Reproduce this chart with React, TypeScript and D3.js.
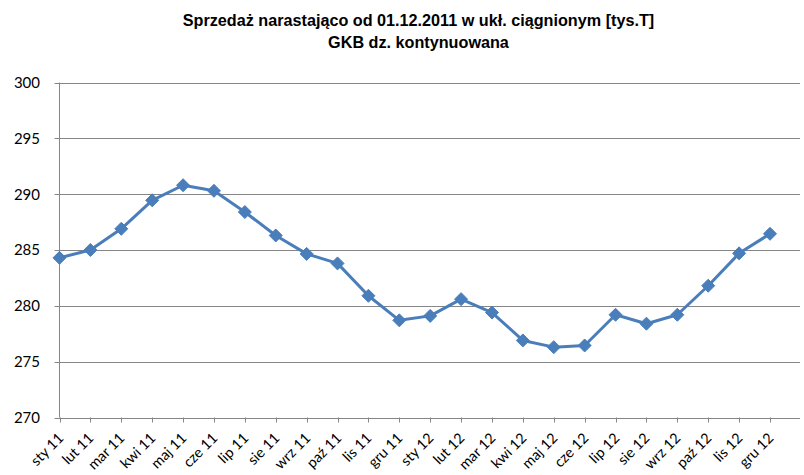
import React from "react";
import * as d3 from "d3";

const categories = [
  "sty 11", "lut 11", "mar 11", "kwi 11", "maj 11", "cze 11", "lip 11", "sie 11",
  "wrz 11", "paź 11", "lis 11", "gru 11", "sty 12", "lut 12", "mar 12", "kwi 12",
  "maj 12", "cze 12", "lip 12", "sie 12", "wrz 12", "paź 12", "lis 12", "gru 12",
];
const values = [
  284.3, 285.0, 286.9, 289.45, 290.8, 290.3, 288.4, 286.3,
  284.65, 283.8, 280.9, 278.7, 279.1, 280.6, 279.4, 276.9,
  276.3, 276.45, 279.2, 278.4, 279.2, 281.8, 284.7, 286.45,
];
const yTicks = [270, 275, 280, 285, 290, 295, 300];
const titleLines = [
  "Sprzedaż narastająco od 01.12.2011 w ukł. ciągnionym [tys.T]",
  "GKB dz. kontynuowana",
];

const W = 804;
const H = 475;
const plotLeft = 59.5;
const plotRight = 800;
const lastPointX = 770;
const plotTop = 82.5;
const plotBottom = 417.5;

export default function App() {
  const x = d3.scalePoint<string>().domain(categories).range([plotLeft, lastPointX]);
  const y = d3.scaleLinear().domain([270, 300]).range([plotBottom, plotTop]);
  const line = d3
    .line<number>()
    .x((_, i) => x(categories[i]) as number)
    .y((d) => y(d));
  const labelFont = "Lato, 'Open Sans', sans-serif";
  const gridColor = "#868686";
  const blue = "#4A7EBB";
  const diamond = (cx: number, cy: number, r: number) =>
    `M${cx},${cy - r}L${cx + r},${cy}L${cx},${cy + r}L${cx - r},${cy}Z`;

  return (
    <svg
      width={W}
      height={H}
      style={{ position: "absolute", left: 0, top: 0, background: "#fff" }}
    >
      {titleLines.map((t, i) => (
        <text
          key={t}
          x={418.5}
          y={25.5 + i * 22}
          textAnchor="middle"
          fontFamily="'Liberation Sans', Arial, sans-serif"
          fontWeight="bold"
          fontSize={16.2}
          fill="#000"
        >
          {t}
        </text>
      ))}
      {yTicks.map((t) => (
        <g key={t}>
          <line
            x1={plotLeft - 5}
            x2={plotRight}
            y1={Math.round(y(t)) + 0.5}
            y2={Math.round(y(t)) + 0.5}
            stroke={gridColor}
            strokeWidth={1}
          />
          <text
            x={40}
            y={y(t)}
            dy="0.36em"
            textAnchor="end"
            fontFamily={labelFont}
            fontSize={15}
            fill="#000"
          >
            {t}
          </text>
        </g>
      ))}
      <line
        x1={plotLeft}
        x2={plotLeft}
        y1={plotTop}
        y2={plotBottom}
        stroke={gridColor}
        strokeWidth={1}
      />
      {categories.map((c) => {
        const cx = Math.round(x(c) as number) + 0.5;
        return (
          <g key={c}>
            <line
              x1={cx}
              x2={cx}
              y1={plotBottom}
              y2={plotBottom + 5}
              stroke={gridColor}
              strokeWidth={1}
            />
            <text
              transform={`translate(${cx + 4},${439}) rotate(-45)`}
              textAnchor="end"
              fontFamily={labelFont}
              fontSize={14.5}
              fill="#000"
            >
              {c}
            </text>
          </g>
        );
      })}
      <path
        d={line(values) ?? ""}
        fill="none"
        stroke={blue}
        strokeWidth={3}
        strokeLinejoin="round"
      />
      {values.map((v, i) => (
        <path
          key={i}
          d={diamond(x(categories[i]) as number, y(v), 6.5)}
          fill={blue}
          stroke={blue}
          strokeWidth={1}
        />
      ))}
    </svg>
  );
}
